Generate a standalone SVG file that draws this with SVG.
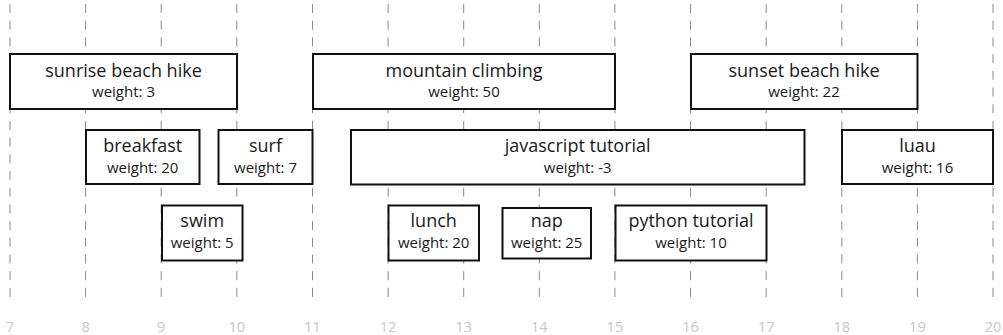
<svg xmlns="http://www.w3.org/2000/svg" width="1003" height="335" viewBox="0 0 1003 335">
<style>
.grid line{stroke:#8a8a8a;stroke-width:1;stroke-dasharray:9 7.7}
.axis text{font-family:"Open Sans","Noto Sans",sans-serif;font-size:14.5px;fill:#c8c8c8;text-anchor:middle}
.node rect{fill:#fff;stroke:#111;stroke-width:2}
.node text{font-family:"Open Sans","Noto Sans",sans-serif;fill:#1a1a1a;text-anchor:middle}
.node .t{font-size:18px}
.node .w{font-size:15px}
</style>
<rect width="1003" height="335" fill="#fff"/>
<g class="grid">
<line x1="10" y1="4" x2="10" y2="300"/>
<line x1="85.6" y1="4" x2="85.6" y2="300"/>
<line x1="161.2" y1="4" x2="161.2" y2="300"/>
<line x1="236.8" y1="4" x2="236.8" y2="300"/>
<line x1="312.5" y1="4" x2="312.5" y2="300"/>
<line x1="388.1" y1="4" x2="388.1" y2="300"/>
<line x1="463.7" y1="4" x2="463.7" y2="300"/>
<line x1="539.3" y1="4" x2="539.3" y2="300"/>
<line x1="614.9" y1="4" x2="614.9" y2="300"/>
<line x1="690.5" y1="4" x2="690.5" y2="300"/>
<line x1="766.2" y1="4" x2="766.2" y2="300"/>
<line x1="841.8" y1="4" x2="841.8" y2="300"/>
<line x1="917.4" y1="4" x2="917.4" y2="300"/>
<line x1="993" y1="4" x2="993" y2="300"/>
</g>
<g class="axis">
<text x="10" y="332">7</text>
<text x="85.6" y="332">8</text>
<text x="161.2" y="332">9</text>
<text x="236.8" y="332">10</text>
<text x="312.5" y="332">11</text>
<text x="388.1" y="332">12</text>
<text x="463.7" y="332">13</text>
<text x="539.3" y="332">14</text>
<text x="614.9" y="332">15</text>
<text x="690.5" y="332">16</text>
<text x="766.2" y="332">17</text>
<text x="841.8" y="332">18</text>
<text x="917.4" y="332">19</text>
<text x="993" y="332">20</text>
</g>
<g id="connectors"></g>
<g id="sunrise-beach-hike" class="node"><rect x="10" y="54" width="227" height="55"/><text class="t" x="123.5" y="77">sunrise beach hike</text><text class="w" x="123.5" y="97">weight: 3</text></g>
<g id="mountain-climbing" class="node"><rect x="313" y="54" width="302" height="55"/><text class="t" x="464" y="77">mountain climbing</text><text class="w" x="464" y="97">weight: 50</text></g>
<g id="sunset-beach-hike" class="node"><rect x="691" y="54" width="226.5" height="55"/><text class="t" x="804" y="77">sunset beach hike</text><text class="w" x="804" y="97">weight: 22</text></g>
<g id="breakfast" class="node"><rect x="86" y="130" width="113.5" height="54"/><text class="t" x="142.7" y="152">breakfast</text><text class="w" x="142.7" y="173">weight: 20</text></g>
<g id="surf" class="node"><rect x="218.5" y="130" width="94" height="54"/><text class="t" x="265.5" y="152">surf</text><text class="w" x="265.5" y="173">weight: 7</text></g>
<g id="javascript-tutorial" class="node"><rect x="351" y="130" width="453.5" height="54.5"/><text class="t" x="577.7" y="152">javascript tutorial</text><text class="w" x="577.7" y="173">weight: -3</text></g>
<g id="luau" class="node"><rect x="842" y="130" width="151" height="54"/><text class="t" x="917.5" y="152">luau</text><text class="w" x="917.5" y="173">weight: 16</text></g>
<g id="swim" class="node"><rect x="162" y="205.5" width="80.5" height="55"/><text class="t" x="202.2" y="227">swim</text><text class="w" x="202.2" y="248">weight: 5</text></g>
<g id="lunch" class="node"><rect x="388.5" y="205.5" width="90.5" height="55"/><text class="t" x="433.7" y="227">lunch</text><text class="w" x="433.7" y="248">weight: 20</text></g>
<g id="nap" class="node"><rect x="502.5" y="208" width="88.5" height="50.5"/><text class="t" x="546.7" y="226.5">nap</text><text class="w" x="546.7" y="247.5">weight: 25</text></g>
<g id="python-tutorial" class="node"><rect x="615.5" y="205.5" width="151" height="55"/><text class="t" x="691" y="227">python tutorial</text><text class="w" x="691" y="248">weight: 10</text></g>
</svg>
